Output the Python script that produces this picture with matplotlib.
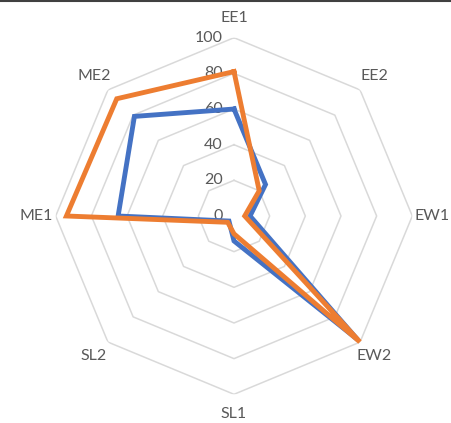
import matplotlib
matplotlib.use("Agg")
import matplotlib.pyplot as plt
import numpy as np

plt.rcParams['font.family'] = ['Lato', 'DejaVu Sans']

categories = ["EE1", "EE2", "EW1", "EW2", "SL1", "SL2", "ME1", "ME2"]
series_blue = [60, 25, 9, 98, 14, 4, 65, 79]
series_orange = [81, 20, 6, 100, 10, 5, 94, 93]
grid_levels = [20, 40, 60, 80, 100]
tick_values = [0, 20, 40, 60, 80, 100]

W, H = 451, 423
fig = plt.figure(figsize=(W / 100, H / 100), dpi=100)
cx, cy, rad = 234, 216, 178.3
ax = fig.add_axes([(cx - rad) / W, (H - cy - rad) / H, 2 * rad / W, 2 * rad / H],
                  projection='polar')
ax.set_theta_zero_location('N')
ax.set_theta_direction(-1)
ax.set_ylim(0, 100)
ax.grid(False)
ax.spines['polar'].set_visible(False)
ax.set_xticks([])
ax.set_yticks([])
ax.patch.set_alpha(0)

n = len(categories)
angles = np.linspace(0, 2 * np.pi, n, endpoint=False)
closed = np.append(angles, angles[0])

# octagon gridlines
for lv in grid_levels:
    ax.plot(closed, [lv] * (n + 1), color='#D9D9D9', lw=1.1, zorder=1)

def close(v):
    return list(v) + [v[0]]

ax.plot(closed, close(series_blue), color='#4472C4', lw=3.5, zorder=3,
        solid_joinstyle='miter')
ax.plot(closed, close(series_orange), color='#ED7D31', lw=3.5, zorder=4,
        solid_joinstyle='miter')

# value labels along the first axis
for tv in tick_values:
    ax.annotate(str(tv), xy=(0, tv), xytext=(-8, 0), textcoords='offset points',
                ha='right', va='center', fontsize=11.5, color='#595959', zorder=2)

# category labels
for a, c in zip(angles, categories):
    ax.text(a, 111, c, ha='center', va='center', fontsize=11.5, color='#595959')

for art in ax.texts:
    art.set_clip_on(False)

fig.add_artist(plt.Line2D([0, 1], [0.998, 0.998], transform=fig.transFigure,
                          color='#404040', lw=1.5))

fig.savefig("out.png", dpi=100)
